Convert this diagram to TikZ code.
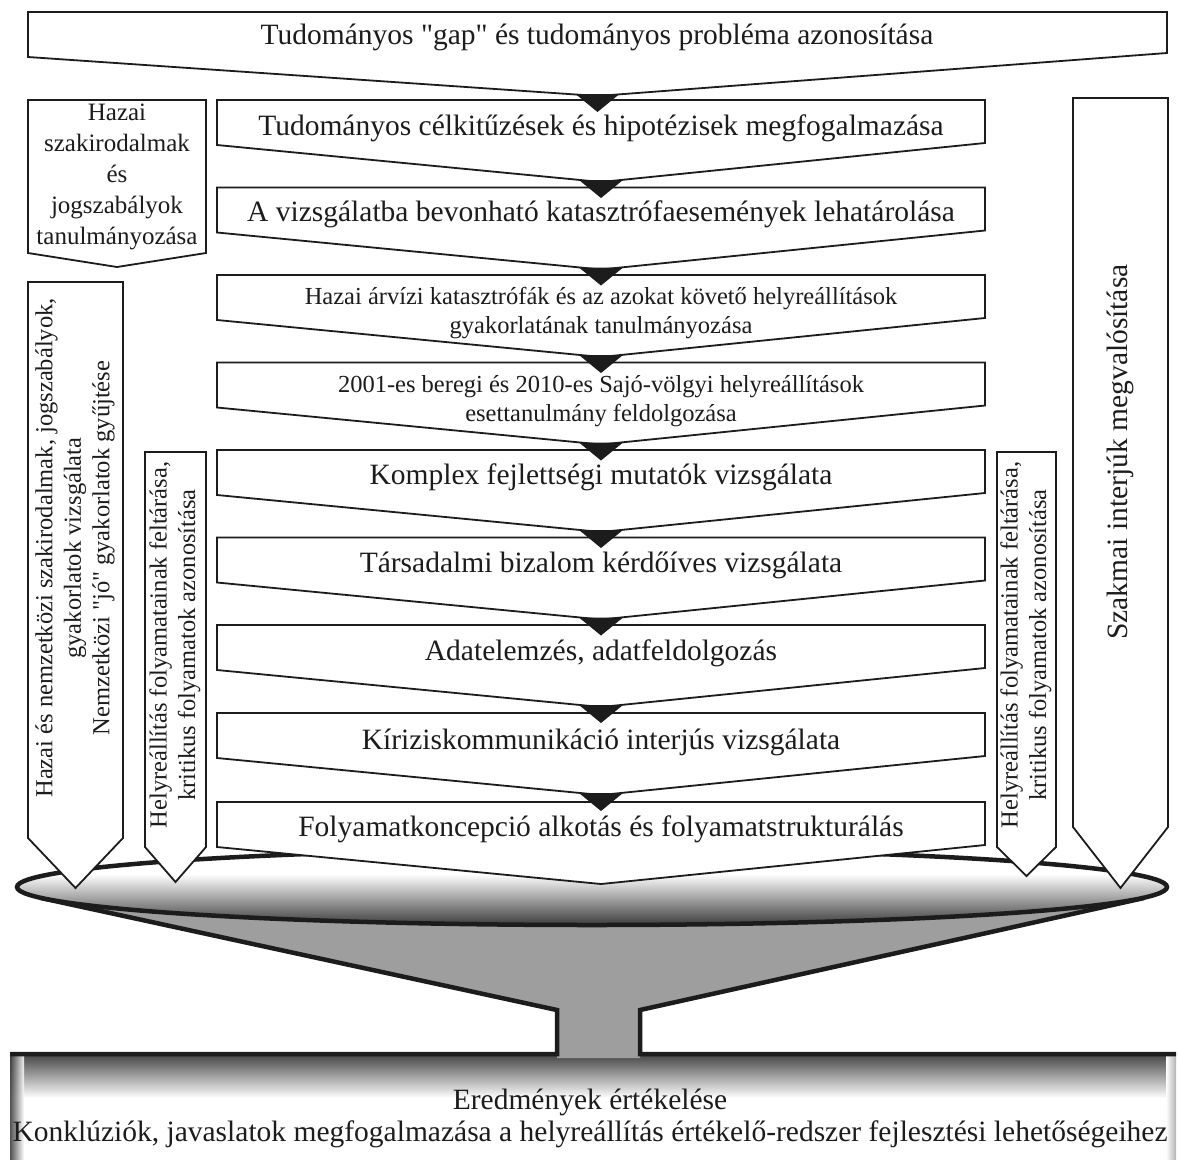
\documentclass[tikz,border=0pt]{standalone}
\usepackage{fontspec}
\setmainfont{Liberation Serif}[Ligatures=TeXOff]
\definecolor{linec}{HTML}{1C1C1C}
\definecolor{conegray}{HTML}{9E9E9E}
% pentagon arrow box: left, right, top, left corner, right corner, tip
\newcommand{\pentbox}[6]{%
  \path[box] (#1,#3) -- (#2,#3) -- (#2,#5) -- ({(#1+#2)/2},#6) -- (#1,#4) -- cycle;}
% black arrowhead where one step flows into the next
\newcommand{\flowtip}[2]{%
  \fill[linec] (#1-22,#2-2) -- (#1+22,#2-2) -- (#1,#2+16) -- cycle;}
\begin{document}
\begin{tikzpicture}[x=1pt,y=-1pt,
  box/.style={draw=linec, fill=white, line width=1.8pt, line join=miter},
  big/.style={font=\fontsize{29.5}{32}\selectfont, align=center, inner sep=0pt, text=linec},
  small/.style={font=\fontsize{24.5}{28.5}\selectfont, align=center, inner sep=0pt, text=linec},
  thick line/.style={draw=linec, line width=4.5pt, line join=miter}]
\useasboundingbox (0,0) rectangle (1179,1160);
\fill[white] (0,0) rectangle (1179,1160);

% result box at the bottom
\fill[white] (10,1054) rectangle (1175,1160);
\shade[top color=black!70, bottom color=white] (10,1056) rectangle (1175,1098);
\shade[left color=black!75, right color=white, fill opacity=0.9] (10,1056) rectangle (24,1160);
\shade[left color=white, right color=black!30] (1166,1056) rectangle (1176,1160);

% funnel cone and neck
\fill[conegray] (41,898) -- (557,1010) -- (557,1058) -- (640,1058) -- (640,1010) -- (1144,898) -- cycle;
\draw[thick line] (41,898) -- (557,1010) -- (557,1054) -- (10,1054);
\draw[thick line] (1144,898) -- (640,1010) -- (640,1054) -- (1176,1054);

% funnel mouth
\fill[white] (592,887) ellipse [x radius=575, y radius=38];
\begin{scope}
  \clip (592,887) ellipse [x radius=575, y radius=38];
  \shade[top color=white, bottom color=black!78] (0,874) rectangle (1179,926);
\end{scope}
\draw[linec, line width=4.5pt] (592,887) ellipse [x radius=575, y radius=38];

% main sequence of steps
\pentbox{28}{1167}{12}{57}{53}{96}
\foreach \t in {100,187.5,275,362.5,450,537.5,625,713,802}
  \pentbox{217}{985}{\t}{\t+45}{\t+43}{\t+82};

% side boxes
\pentbox{28}{206}{100}{253}{253}{267}
\pentbox{28}{123}{282}{838}{838}{888}
\pentbox{145}{206}{452}{847}{847}{882}
\pentbox{997}{1056}{452}{847}{847}{876}
\pentbox{1073}{1168}{98}{827}{827}{888}

% arrowheads between consecutive steps
\flowtip{597.5}{96}
\foreach \t in {100,187.5,275,362.5,450,537.5,625,713}
  \flowtip{601}{\t+82};

% texts of the steps
\node[big] (s0) at (597,37) {Tudományos "gap" és tudományos probléma azonosítása};
\node[big] (s1) at (601,128) {Tudományos célkitűzések és hipotézisek megfogalmazása};
\node[big] (s2) at (601,214) {A vizsgálatba bevonható katasztrófaesemények lehatárolása};
\node[small] (s3) at (601,313) {Hazai árvízi katasztrófák és az azokat követő helyreállítások\\gyakorlatának tanulmányozása};
\node[small] (s4) at (601,401) {2001-es beregi és 2010-es Sajó-völgyi helyreállítások\\esettanulmány feldolgozása};
\node[big] (s5) at (601,477) {Komplex fejlettségi mutatók vizsgálata};
\node[big] (s6) at (601,565) {Társadalmi bizalom kérdőíves vizsgálata};
\node[big] (s7) at (601,653) {Adatelemzés, adatfeldolgozás};
\node[big] (s8) at (601,742) {Kíriziskommunikáció interjús vizsgálata};
\node[big] (s9) at (601,829) {Folyamatkoncepció alkotás és folyamatstrukturálás};

% side texts
\node[small, font=\fontsize{25}{31}\selectfont] (l1) at (117,177) {Hazai\\szakirodalmak\\és\\jogszabályok\\tanulmányozása};
\node[small, rotate=90] (l2) at (75,548) {Hazai és nemzetközi szakirodalmak, jogszabályok,\\gyakorlatok vizsgálata\\Nemzetközi "jó" gyakorlatok gyűjtése};
\node[small, rotate=90] (l3) at (175,645) {Helyreállítás folyamatainak feltárása,\\kritikus folyamatok azonosítása};
\node[small, rotate=90] (r1) at (1026,645) {Helyreállítás folyamatainak feltárása,\\kritikus folyamatok azonosítása};
\node[big, rotate=90] (r2) at (1120,452) {Szakmai interjúk megvalósítása};

% result text
\node[big] (res) at (590,1118) {Eredmények értékelése\\Konklúziók, javaslatok megfogalmazása a helyreállítás értékelő-redszer fejlesztési lehetőségeihez};
\end{tikzpicture}
\end{document}
